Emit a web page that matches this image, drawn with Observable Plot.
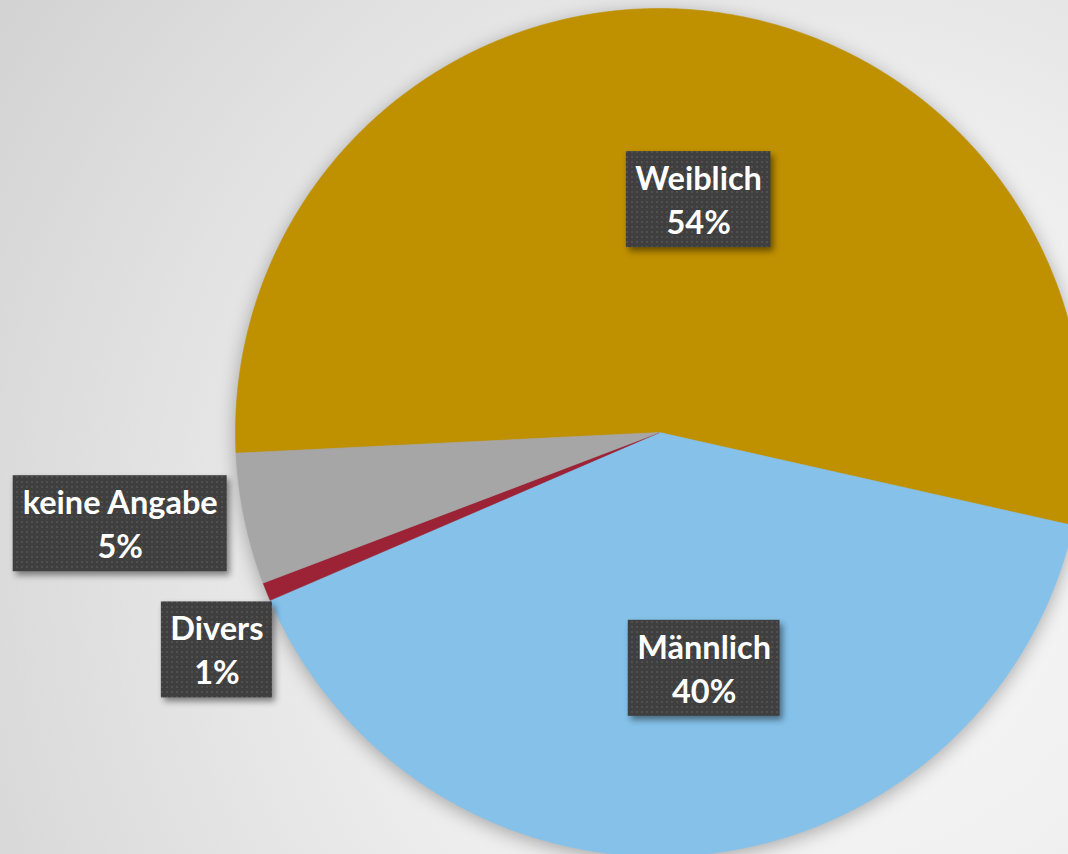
<!DOCTYPE html>
<html><head><meta charset="utf-8">
<script src="https://cdn.jsdelivr.net/npm/d3@7"></script>
<script src="https://cdn.jsdelivr.net/npm/@observablehq/plot@0.6"></script>
<style>
html,body{margin:0;padding:0;overflow:hidden;width:1068px;height:854px;background:#e8e8e8;}
#chart svg{display:block;}
#chart g[aria-label="line"]{filter:drop-shadow(0px 4px 9px rgba(0,0,0,0.30));}
#chart g[aria-label="rect"]{filter:drop-shadow(3px 4px 3px rgba(0,0,0,0.45));}
</style></head><body><div id="chart"></div>
<script>
// ---- data ----
const categories = ["Weiblich", "Männlich", "Divers", "keine Angabe"];
const shares = [54.3, 40.0, 0.7, 5.0];
const percentLabels = ["54%", "40%", "1%", "5%"];
const colors = ["#BF9000", "#85C1E9", "#9B2335", "#A6A6A6"];

// ---- layout ----
const W = 1068, H = 854, cx = 659, cy = 432, R = 424;
const startDeg = 177.2; // clockwise from east (screen)
// label placement: radius factor and angular tweak relative to slice middle
const labelLayout = {
  "Weiblich": {r: 0.557, dA: 4.6},
  "Männlich": {r: 0.566, dA: -5.4},
  "Divers": {r: 1.163, dA: -4.1},
  "keine Angabe": {r: 1.29, dA: 2.2}
};
const fontSize = 32.5, fontFamily = "Lato", lineGap = 44, boxH = 96, padX = 9, textShift = 2;

const total = d3.sum(shares);
const rad = d => d * Math.PI / 180;
let acc = startDeg;
const slices = categories.map((c, i) => {
  const a0 = acc, a1 = acc + shares[i] / total * 360;
  acc = a1;
  return {cat: c, pct: percentLabels[i], a0, a1, mid: (a0 + a1) / 2};
});
const piePts = slices.flatMap(s => {
  const pts = [{cat: s.cat, x: 0, y: 0}];
  const n = Math.max(4, Math.ceil((s.a1 - s.a0) / 0.4));
  for (let k = 0; k <= n; k++) {
    const a = rad(s.a0 + (s.a1 - s.a0) * k / n);
    pts.push({cat: s.cat, x: Math.cos(a), y: Math.sin(a)});
  }
  pts.push({cat: s.cat, x: 0, y: 0});
  return pts;
});

const ctx = document.createElement("canvas").getContext("2d");
ctx.font = `bold ${fontSize}px ${fontFamily}`;
const labels = slices.map(s => {
  const L = labelLayout[s.cat];
  const a = rad(s.mid + L.dA);
  const x = L.r * Math.cos(a), y = L.r * Math.sin(a);
  const tw = Math.max(ctx.measureText(s.cat).width, ctx.measureText(s.pct).width);
  const hw = (tw / 2 + padX) / R, hh = (boxH / 2) / R;
  return {cat: s.cat, pct: s.pct, x, y, x1: x - hw, x2: x + hw, y1: y - hh, y2: y + hh,
          y1t: y + (textShift - lineGap / 2) / R, y2t: y + (textShift + lineGap / 2) / R};
});

const svgns = "http://www.w3.org/2000/svg";
function defsMark() {
  const g = document.createElementNS(svgns, "g");
  g.innerHTML = `<defs>
    <radialGradient id="bg" gradientUnits="userSpaceOnUse" cx="820" cy="560" r="980">
      <stop offset="0" stop-color="#f9f9f9"/>
      <stop offset="0.45" stop-color="#eeeeee"/>
      <stop offset="1" stop-color="#d3d3d3"/>
    </radialGradient>
    <pattern id="dots" width="5" height="5" patternUnits="userSpaceOnUse">
      <rect width="5" height="5" fill="#3f3f3f"/>
      <rect x="1" y="1" width="2" height="2" fill="#505050"/>
    </pattern>
  </defs><rect x="0" y="0" width="${W}" height="${H}" fill="url(#bg)"/>`;
  return g;
}

const chart = Plot.plot({
  width: W, height: H,
  margin: 0,
  style: {background: "none", overflow: "hidden"},
  x: {domain: [-1, 1], range: [cx - R, cx + R], axis: null},
  y: {domain: [-1, 1], range: [cy - R, cy + R], axis: null},
  color: {domain: categories, range: colors},
  marks: [
    defsMark,
    Plot.line(piePts, {x: "x", y: "y", z: "cat", fill: "cat", stroke: "cat", strokeWidth: 0.6, curve: "linear"}),
    Plot.rect(labels, {x1: "x1", x2: "x2", y1: "y1", y2: "y2", fill: "url(#dots)"}),
    Plot.text(labels, {x: "x", y: "y1t", text: "cat", fill: "white", fontSize, fontFamily, fontWeight: "bold"}),
    Plot.text(labels, {x: "x", y: "y2t", text: "pct", fill: "white", fontSize, fontFamily, fontWeight: "bold"})
  ]
});
document.getElementById("chart").appendChild(chart);
</script></body></html>
